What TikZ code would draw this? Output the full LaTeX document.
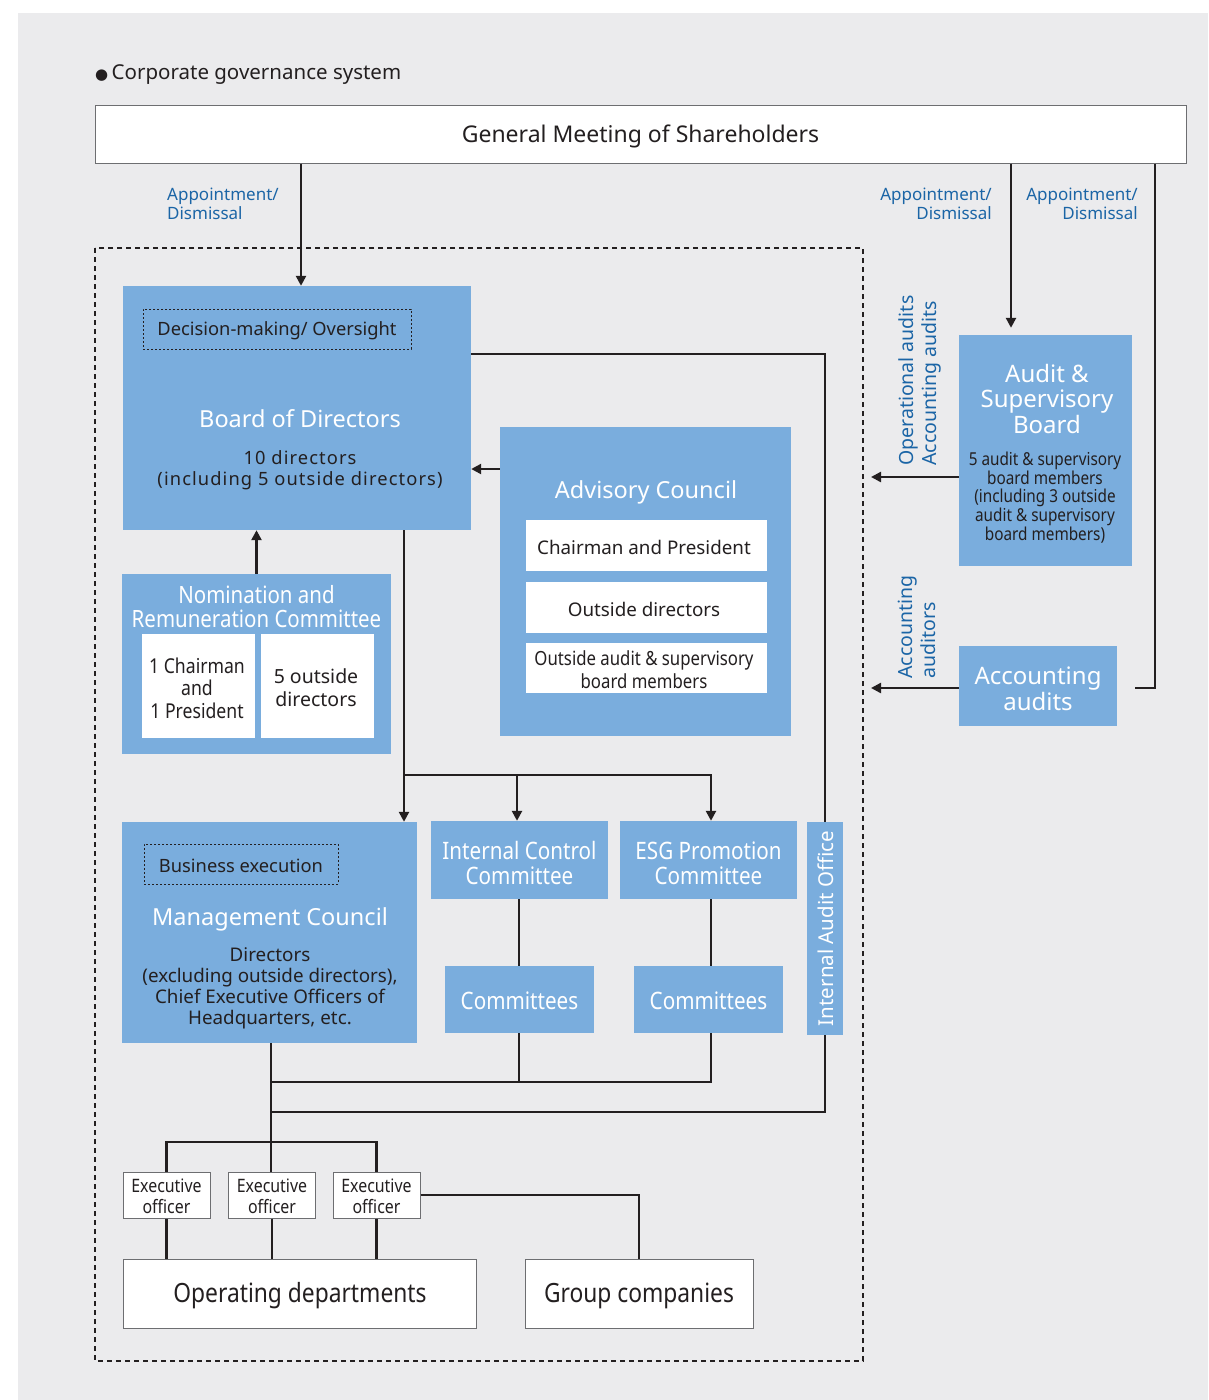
\documentclass[tikz,border=0pt]{standalone}
\usepackage{fontspec}
\setmainfont{Noto Sans}
\newfontfamily\condfont[FakeStretch=0.86]{Noto Sans}
\newfontfamily\symfont{DejaVu Sans}
\usetikzlibrary{arrows.meta}
\definecolor{bg}{HTML}{EBEBED}
\definecolor{boxblue}{HTML}{7AADDD}
\definecolor{lblue}{HTML}{1B65A6}
\definecolor{ink}{HTML}{231F20}
\definecolor{frame}{HTML}{6D6E71}
\tikzset{
  bluebox/.style={fill=boxblue, draw=none, inner sep=0pt},
  whitebox/.style={fill=white, draw=none, inner sep=0pt},
  framebox/.style={fill=white, draw=frame, line width=1pt, inner sep=0pt},
  dotbox/.style={draw=ink, dash pattern=on 2pt off 2pt, line width=0.9pt, inner sep=0pt},
  ln/.style={draw=ink, line width=2.4pt},
  arr/.style={draw=ink, line width=2.4pt, -{Triangle[length=10pt,width=10pt]}},
  lbl/.style={text=lblue, font=\fontsize{17}{19}\selectfont, inner sep=0pt},
  wtitle/.style={text=white, font=\fontsize{23}{25}\selectfont, align=center, inner sep=0pt},
  dtext/.style={text=ink, font=\fontsize{18}{21}\selectfont, align=center, inner sep=0pt},
  ctext/.style={text=ink, font=\condfont\fontsize{17}{19}\selectfont, align=center, inner sep=0pt},
  cwtitle/.style={text=white, font=\condfont\fontsize{23}{25}\selectfont, align=center, inner sep=0pt},
}
\begin{document}
\begin{tikzpicture}[x=1pt,y=-1pt]
\useasboundingbox (0,0) rectangle (1208,1400);
\fill[white] (0,0) rectangle (1208,1400);
\fill[bg] (18,13) rectangle (1208,1400);

% title
\node[anchor=west, text=ink, font=\fontsize{20.5}{22}\selectfont, inner sep=0pt] (title) at (95,75) {{\symfont\fontsize{15}{15}\selectfont ●}\,Corporate governance system};

% General meeting
\node[framebox, minimum width=1091pt, minimum height=58pt] (gms) at (640.5,134) {};
\node[text=ink, font=\fontsize{23}{25}\selectfont, inner sep=0pt] (gmst) at (640.5,136) {General Meeting of Shareholders};

% dashed area
\draw[ink, line width=1.6pt, dash pattern=on 5pt off 4pt] (95,248) rectangle (863,1361);

% Board of Directors
\node[bluebox, minimum width=348pt, minimum height=244pt] (bod) at (297,408) {};
\node[dotbox, minimum width=268pt, minimum height=40pt] (dmo) at (277,329) {};
\node[text=ink, font=\fontsize{18.3}{20}\selectfont, inner sep=0pt] (dmot) at (277,330.5) {Decision-making/ Oversight};
\node[wtitle, font=\fontsize{23.5}{25}\selectfont] (bodt) at (300,419) {Board of Directors};
\node[dtext, font=\addfontfeatures{LetterSpace=6}\fontsize{18.3}{21.5}\selectfont] (bodd) at (300,470) {10 directors\\(including 5 outside directors)};

% Advisory Council
\node[bluebox, minimum width=291pt, minimum height=309pt] (adv) at (645.5,581.5) {};
\node[wtitle, font=\fontsize{23.5}{25}\selectfont] (advt) at (646,492) {Advisory Council};
\node[whitebox, minimum width=241pt, minimum height=51pt] (adv1) at (646.5,545.5) {};
\node[dtext, font=\fontsize{18.8}{21}\selectfont] (adv1t) at (644,547) {Chairman and President};
\node[whitebox, minimum width=241pt, minimum height=51pt] (adv2) at (646.5,607.5) {};
\node[dtext, font=\fontsize{18.8}{21}\selectfont] (adv2t) at (644,609) {Outside directors};
\node[whitebox, minimum width=241pt, minimum height=50pt] (adv3) at (646.5,668) {};
\node[ctext, font=\condfont\fontsize{19.5}{22.5}\selectfont] (adv3t) at (644,669.5) {Outside audit \& supervisory\\board members};

% Nomination and Remuneration Committee
\node[bluebox, minimum width=269pt, minimum height=180pt] (nrc) at (256.5,664) {};
\node[cwtitle, font=\condfont\fontsize{23.8}{24}\selectfont] (nrct) at (256.5,607) {Nomination and\\Remuneration Committee};
\node[whitebox, minimum width=113pt, minimum height=104pt] (nrc1) at (198.5,686) {};
\node[ctext, font=\condfont\fontsize{20.5}{22.5}\selectfont] (nrc1t) at (197,688) {1 Chairman\\and\\1 President};
\node[whitebox, minimum width=113pt, minimum height=104pt] (nrc2) at (317.5,686) {};
\node[dtext, font=\fontsize{19.5}{23}\selectfont] (nrc2t) at (316,688) {5 outside\\directors};

% Management Council
\node[bluebox, minimum width=295pt, minimum height=221pt] (mc) at (269.5,932.5) {};
\node[dotbox, minimum width=194pt, minimum height=40pt] (be) at (241,864) {};
\node[text=ink, font=\fontsize{18.3}{20}\selectfont, inner sep=0pt] (bet) at (241,865.5) {Business execution};
\node[wtitle, font=\fontsize{23.5}{25}\selectfont] (mct) at (270,919) {Management Council};
\node[dtext, font=\fontsize{18.8}{21}\selectfont] (mcd) at (270,988) {Directors\\(excluding outside directors),\\Chief Executive Officers of\\Headquarters, etc.};

% Internal Control / ESG
\node[bluebox, minimum width=177pt, minimum height=78pt] (icc) at (519.5,860) {};
\node[cwtitle, font=\condfont\fontsize{24}{25}\selectfont] (icct) at (519.5,863) {Internal Control\\Committee};
\node[bluebox, minimum width=177pt, minimum height=78pt] (esg) at (708.5,860) {};
\node[cwtitle, font=\condfont\fontsize{24}{25}\selectfont] (esgt) at (708.5,863) {ESG Promotion\\Committee};
\node[bluebox, minimum width=149pt, minimum height=67pt] (com1) at (519.5,999.5) {};
\node[cwtitle, font=\condfont\fontsize{24}{25}\selectfont] (com1t) at (519.5,1001) {Committees};
\node[bluebox, minimum width=149pt, minimum height=67pt] (com2) at (708.5,999.5) {};
\node[cwtitle, font=\condfont\fontsize{24}{25}\selectfont] (com2t) at (708.5,1001) {Committees};

% Internal Audit Office
\node[bluebox, minimum width=36pt, minimum height=213pt] (iao) at (825,928.5) {};
\node[wtitle, rotate=90, font=\fontsize{20.5}{23}\selectfont] (iaot) at (826,928.5) {Internal Audit Office};

% Executive officers
\node[framebox, minimum width=87pt, minimum height=46pt] (eo1) at (166.5,1195) {};
\node[ctext, font=\condfont\fontsize{18.5}{20.5}\selectfont] (eo1t) at (166.5,1196.5) {Executive\\officer};
\node[framebox, minimum width=87pt, minimum height=46pt] (eo2) at (272,1195) {};
\node[ctext, font=\condfont\fontsize{18.5}{20.5}\selectfont] (eo2t) at (272,1196.5) {Executive\\officer};
\node[framebox, minimum width=87pt, minimum height=46pt] (eo3) at (376.5,1195) {};
\node[ctext, font=\condfont\fontsize{18.5}{20.5}\selectfont] (eo3t) at (376.5,1196.5) {Executive\\officer};

\node[framebox, minimum width=353pt, minimum height=69pt] (od) at (299.5,1293.5) {};
\node[text=ink, font=\condfont\fontsize{26.5}{28}\selectfont, inner sep=0pt] (odt) at (300,1296) {Operating departments};
\node[framebox, minimum width=228pt, minimum height=69pt] (gc) at (639,1293.5) {};
\node[text=ink, font=\condfont\fontsize{26.5}{28}\selectfont, inner sep=0pt] (gct) at (639,1296) {Group companies};

% Audit & Supervisory Board
\node[bluebox, minimum width=173pt, minimum height=231pt] (asb) at (1045.5,450.5) {};
\node[wtitle, font=\fontsize{24}{25.5}\selectfont] (asbt) at (1047,398.5) {Audit \&\\Supervisory\\Board};
\node[ctext, font=\condfont\fontsize{17.8}{18.8}\selectfont] (asbd) at (1045,497.5) {5 audit \& supervisory\\board members\\(including 3 outside\\audit \& supervisory\\board members)};

% Accounting audits
\node[bluebox, minimum width=158pt, minimum height=80pt] (aa) at (1038,686) {};
\node[wtitle, font=\fontsize{24}{26}\selectfont] (aat) at (1038,689) {Accounting\\audits};

% labels
\node[lbl, anchor=north west, align=left] (ap1) at (167,188) {Appointment/\\Dismissal};
\node[lbl, anchor=north east, align=right] (ap2) at (992,188) {Appointment/\\Dismissal};
\node[lbl, anchor=north east, align=right] (ap3) at (1138,188) {Appointment/\\Dismissal};
\node[lbl, rotate=90, anchor=west, align=left, font=\fontsize{19.5}{23}\selectfont] (oal) at (920,466) {Operational audits\\Accounting audits};
\node[lbl, rotate=90, anchor=west, align=left, font=\fontsize{19.5}{23}\selectfont] (aal) at (917,679) {Accounting\\auditors};

% free ends
\coordinate (oaend) at (871,477);
\coordinate (aaend) at (871,688);
\coordinate (aaright) at (1135,688);

% connectors
\draw[arr] (gms.south -| 301,0) -- (301,0 |- bod.north);
\draw[ln] (bod.east |- 0,354) -| (iao.north);
\draw[ln] (iao.south) |- (271,1112);
\draw[arr] (adv.west |- 0,469) -- (bod.east |- 0,469);
\draw[arr] (nrc.north) -- (nrc.north |- bod.south);
\draw[arr] (404,0 |- bod.south) -- (404,0 |- mc.north);
\draw[arr] (404,775) -| (517,0 |- icc.north);
\draw[arr] (404,775) -| (711,0 |- esg.north);
\draw[ln] (519,0 |- icc.south) -- (519,0 |- com1.north);
\draw[ln] (711,0 |- esg.south) -- (711,0 |- com2.north);
\draw[ln] (519,0 |- com1.south) -- (519,1082);
\draw[ln] (711,0 |- com2.south) |- (271,1082);
\draw[ln] (271,0 |- mc.south) -- (271,0 |- eo2.north);
\draw[ln] (eo1.north) |- (eo3.north |- 0,1142) -- (eo3.north);
\draw[ln] (eo1.south) -- (eo1.south |- od.north);
\draw[ln] (eo2.south) -- (eo2.south |- od.north);
\draw[ln] (eo3.south) -- (eo3.south |- od.north);
\draw[ln] (eo3.east) -| (gc.north);
\draw[arr, shorten >=7pt] (gms.south -| 1011,0) -- (1011,0 |- asb.north);
\draw[ln] (gms.south -| 1155,0) |- (aaright);
\draw[arr] (asb.west |- oaend) -- (oaend);
\draw[arr] (aa.west |- aaend) -- (aaend);
\end{tikzpicture}
\end{document}
